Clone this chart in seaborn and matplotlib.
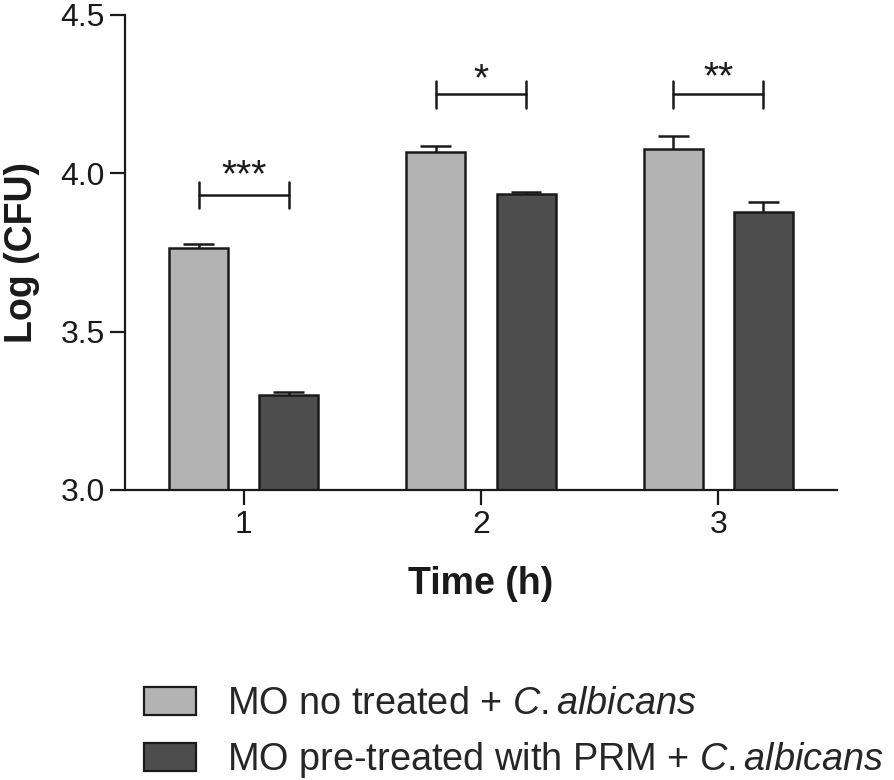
import matplotlib
matplotlib.use('Agg')
import matplotlib.pyplot as plt
from matplotlib import font_manager
from matplotlib.patches import Patch
import numpy as np
import pandas as pd
import seaborn as sns

# values
times = ['1', '2', '3']
groups = ['MO no treated', 'MO pre-treated with PRM']
no_treated = [3.765, 4.068, 4.078]
no_treated_sem = [0.013, 0.019, 0.039]
pre_treated = [3.300, 3.934, 3.879]
pre_treated_sem = [0.009, 0.006, 0.029]
stars = ['***', '*', '**']
bracket_y = [3.932, 4.249, 4.249]
star_y = [3.960, 4.262, 4.268]
legend_labels = ['MO no treated + $\\it{C.albicans}$',
                 'MO pre-treated with PRM + $\\it{C.albicans}$']

light = '#b3b3b3'
dark = '#4d4d4d'
edge = '#1a1a1a'

df = pd.DataFrame({
    'time': times * 2,
    'group': [groups[0]] * 3 + [groups[1]] * 3,
    'logcfu': no_treated + pre_treated,
})

sns.set_style('ticks')
plt.rcParams['font.family'] = ['Liberation Sans', 'DejaVu Sans']

names = {f.name for f in font_manager.fontManager.ttflist}
if 'Liberation Sans Narrow' in names:
    leg_family = 'Liberation Sans Narrow'
    leg_size = 31
else:
    leg_family = 'Liberation Sans'
    leg_size = 27.3
plt.rcParams['mathtext.fontset'] = 'custom'
plt.rcParams['mathtext.it'] = leg_family + ':italic'
plt.rcParams['mathtext.rm'] = leg_family

fig = plt.figure(figsize=(8.94, 7.8), dpi=100)
ax = fig.add_axes([0.1398, 0.3718, 0.7964, 0.6090])

sns.barplot(data=df, x='time', y='logcfu', hue='group', order=times,
            hue_order=groups, palette=[light, dark], width=0.76, gap=0.347,
            edgecolor=edge, linewidth=1.8, errorbar=None, legend=False, ax=ax)

# upper error bars only
errs = [no_treated_sem, pre_treated_sem]
centers = []
for cont, err in zip(ax.containers, errs):
    xs = np.array([b.get_x() + b.get_width() / 2 for b in cont])
    ys = np.array([b.get_height() for b in cont])
    centers.append(xs)
    ax.vlines(xs, ys, ys + np.array(err), color=edge, lw=1.8, zorder=3)
    ax.hlines(ys + np.array(err), xs - 0.065, xs + 0.065, color=edge, lw=1.8, zorder=3)

# significance brackets
for i in range(3):
    x0, x1 = centers[0][i], centers[1][i]
    yb = bracket_y[i]
    ax.plot([x0, x1], [yb, yb], color=edge, lw=1.8, clip_on=False)
    ax.plot([x0, x0], [yb - 0.042, yb + 0.042], color=edge, lw=1.8, clip_on=False)
    ax.plot([x1, x1], [yb - 0.042, yb + 0.042], color=edge, lw=1.8, clip_on=False)
    ax.text((x0 + x1) / 2, star_y[i], stars[i], ha='center', va='baseline',
            fontsize=28, color=edge)

ax.set_xlim(-0.5, 2.5)
ax.set_ylim(3.0, 4.5)
ax.set_yticks([3.0, 3.5, 4.0, 4.5])
ax.set_yticklabels(['3.0', '3.5', '4.0', '4.5'])
sns.despine(ax=ax)
for s in ['left', 'bottom']:
    ax.spines[s].set_linewidth(1.6)
    ax.spines[s].set_color(edge)
ax.tick_params(axis='both', length=11, width=1.6, color=edge, labelsize=23,
               labelcolor='#1a1a1a', pad=3.5)

ax.set_xlabel('Time (h)', fontsize=27, fontweight='bold', color='#1a1a1a')
ax.set_ylabel('Log (CFU)', fontsize=27, fontweight='bold', color='#1a1a1a')
ax.xaxis.set_label_coords(0.5, -0.16)
ax.yaxis.set_label_coords(-0.12, 0.5)

handles = [Patch(facecolor=light, edgecolor=edge, linewidth=1.6),
           Patch(facecolor=dark, edgecolor=edge, linewidth=1.6)]
fig.legend(handles, legend_labels, loc='upper left',
           bbox_to_anchor=(0.161, 0.120), frameon=False, borderpad=0,
           borderaxespad=0, handlelength=1.37, handleheight=0.77,
           handletextpad=0.82, labelspacing=0.46,
           prop={'family': leg_family, 'size': leg_size})

plt.savefig('out.png', dpi=100)
